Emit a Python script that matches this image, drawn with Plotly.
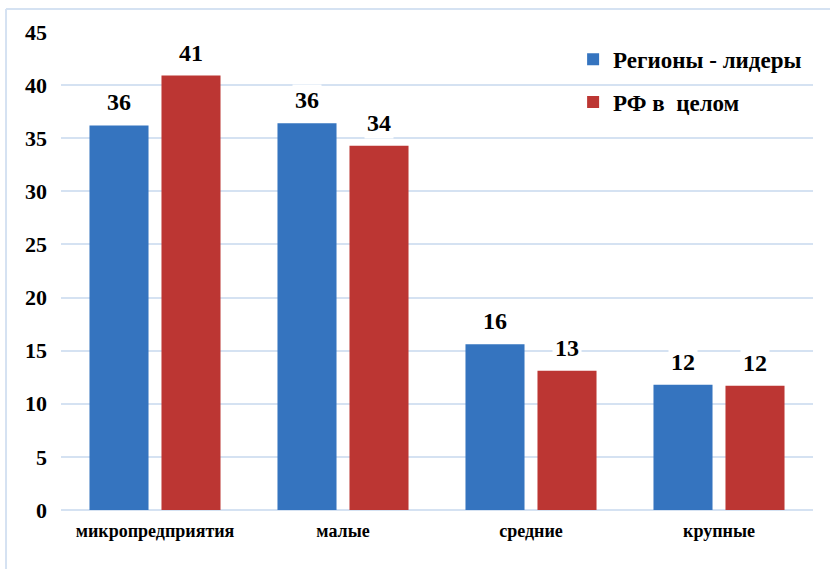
import plotly.graph_objects as go

categories = ["микропредприятия", "малые", "средние", "крупные"]
series_names = ["Регионы - лидеры", "РФ в  целом"]
leaders = [36.2, 36.4, 15.6, 11.8]
russia = [40.9, 34.3, 13.1, 11.7]
leader_labels = ["36", "36", "16", "12"]
russia_labels = ["41", "34", "13", "12"]
y_ticks = [0, 5, 10, 15, 20, 25, 30, 35, 40, 45]

FONT = "Liberation Serif, Times New Roman, DejaVu Serif, serif"
BLUE = "#3574BF"
RED = "#BC3633"
GRID = "#D5E2F2"

fig = go.Figure()
fig.add_trace(go.Bar(name=series_names[0], x=categories, y=leaders,
                     marker=dict(color=BLUE, line=dict(width=0)),
                     legendgroup="a", hoverinfo="skip"))
fig.add_trace(go.Bar(name=series_names[1], x=categories, y=russia,
                     marker=dict(color=RED, line=dict(width=0)),
                     legendgroup="b", hoverinfo="skip"))

annotations = []
for i, c in enumerate(categories):
    for vals, labs, shift in ((leaders, leader_labels, -36), (russia, russia_labels, 36)):
        annotations.append(dict(
            x=c, y=vals[i], xref="x", yref="y", text="<b>%s</b>" % labs[i],
            showarrow=False, xshift=shift, yshift=7, yanchor="bottom",
            bgcolor="white", borderpad=2,
            font=dict(family=FONT, size=24, color="black")))

fig.update_layout(
    width=830, height=569,
    margin=dict(l=61, r=17, t=32, b=59),
    paper_bgcolor="white", plot_bgcolor="white",
    barmode="group", bargap=0.234, bargroupgap=0.18,
    font=dict(family=FONT, color="black"),
    legend=dict(x=0.681, y=0.988, xanchor="left", yanchor="top",
                traceorder="grouped", tracegroupgap=10,
                font=dict(family=FONT, size=23, color="black", weight="bold"),
                bgcolor="rgba(0,0,0,0)"),
    annotations=annotations,
    shapes=[
        dict(type="line", xref="paper", yref="paper", x0=-0.0731, x1=-0.0731,
             y0=1.048, y1=-0.15, line=dict(color=GRID, width=2)),
        dict(type="line", xref="paper", yref="paper", x0=-0.0731, x1=1.03,
             y0=1.048, y1=1.048, line=dict(color=GRID, width=2)),
    ],
)
fig.update_yaxes(range=[0, 45], tickvals=y_ticks, showgrid=True, gridcolor=GRID,
                 gridwidth=1.5, zeroline=True, zerolinecolor=GRID, zerolinewidth=1.5,
                 ticks="", ticklabelstandoff=13, showline=False,
                 tickfont=dict(family=FONT, size=22, color="black", weight="bold"))
fig.update_xaxes(showgrid=False, ticks="", ticklabelstandoff=8, showline=False,
                 tickfont=dict(family=FONT, size=18, color="black", weight="bold"))

fig.write_html("out.html", config={"displayModeBar": False},
               post_script="document.body.style.margin='0px';document.body.style.overflow='hidden';")
